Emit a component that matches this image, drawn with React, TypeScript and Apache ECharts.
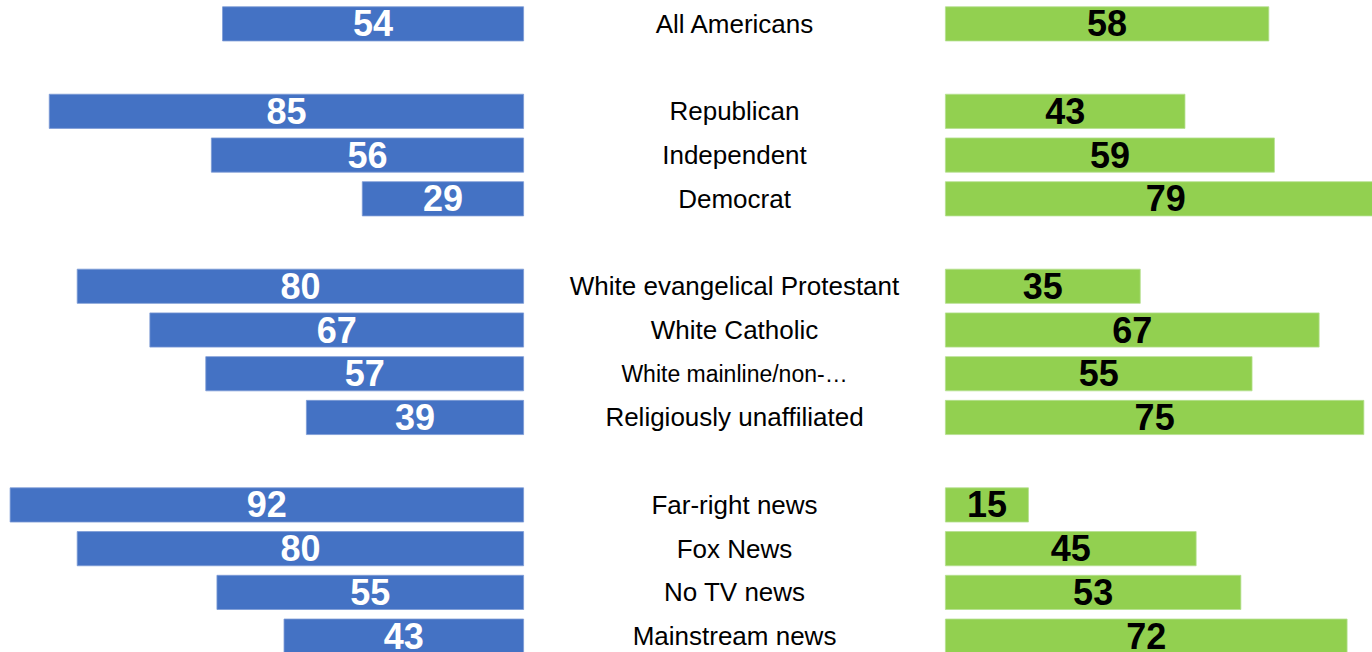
import React, { useEffect, useRef } from "react";
import * as echarts from "echarts";

const categories = [
  "All Americans",
  "gap1",
  "Republican",
  "Independent",
  "Democrat",
  "gap2",
  "White evangelical Protestant",
  "White Catholic",
  "White mainline/non-…",
  "Religiously unaffiliated",
  "gap3",
  "Far-right news",
  "Fox News",
  "No TV news",
  "Mainstream news",
];
const leftValues = [54, null, 85, 56, 29, null, 80, 67, 57, 39, null, 92, 80, 55, 43];
const rightValues = [58, null, 43, 59, 79, null, 35, 67, 55, 75, null, 15, 45, 53, 72];
const smallLabels = ["White mainline/non-…"];

const FONT = "'Liberation Sans', Arial, sans-serif";

export default function App() {
  const ref = useRef<HTMLDivElement>(null);
  useEffect(() => {
    if (!ref.current) return;
    const chart = echarts.init(ref.current, undefined, { renderer: "svg" });
    const unit = 5.59;
    chart.setOption({
      animation: false,
      backgroundColor: "#ffffff",
      grid: [
        { left: 0, top: 2, width: 524, height: 656, containLabel: false },
        { left: 945, top: 2, width: unit * 94, height: 656, containLabel: false },
      ],
      xAxis: [
        {
          gridIndex: 0,
          type: "value",
          inverse: true,
          min: 0,
          max: 524 / unit,
          show: false,
        },
        { gridIndex: 1, type: "value", min: 0, max: 94, show: false },
      ],
      yAxis: [
        {
          gridIndex: 0,
          type: "category",
          data: categories,
          inverse: true,
          position: "right",
          axisLine: { show: false },
          axisTick: { show: false },
          axisLabel: {
            margin: 210.5,
            align: "center",
            color: "#000000",
            fontSize: 26,
            fontFamily: FONT,
            formatter: (v: string) =>
              v.startsWith("gap") ? "" : smallLabels.includes(v) ? `{s|${v}}` : v,
            rich: { s: { fontSize: 23, fontFamily: FONT, color: "#000000" } },
          },
        },
        {
          gridIndex: 1,
          type: "category",
          data: categories,
          inverse: true,
          show: false,
        },
      ],
      series: [
        {
          type: "bar",
          xAxisIndex: 0,
          yAxisIndex: 0,
          data: leftValues,
          barWidth: 35,
          itemStyle: { color: "#4472C4", borderColor: "#7c9bd6", borderWidth: 0.8 },
          label: {
            show: true,
            position: "inside",
            color: "#ffffff",
            fontWeight: "bold",
            fontSize: 36,
            fontFamily: FONT,
          },
        },
        {
          type: "bar",
          xAxisIndex: 1,
          yAxisIndex: 1,
          data: rightValues,
          barWidth: 35,
          itemStyle: { color: "#92D050", borderColor: "#b5e08f", borderWidth: 0.8 },
          label: {
            show: true,
            position: "inside",
            color: "#000000",
            fontWeight: "bold",
            fontSize: 36,
            fontFamily: FONT,
          },
        },
      ],
    });
    return () => chart.dispose();
  }, []);
  return (
    <div
      style={{
        position: "fixed",
        left: 0,
        top: 0,
        width: 1372,
        height: 652,
        overflow: "hidden",
        background: "#fff",
      }}
    >
      <div ref={ref} style={{ width: 1480, height: 658 }} />
    </div>
  );
}
